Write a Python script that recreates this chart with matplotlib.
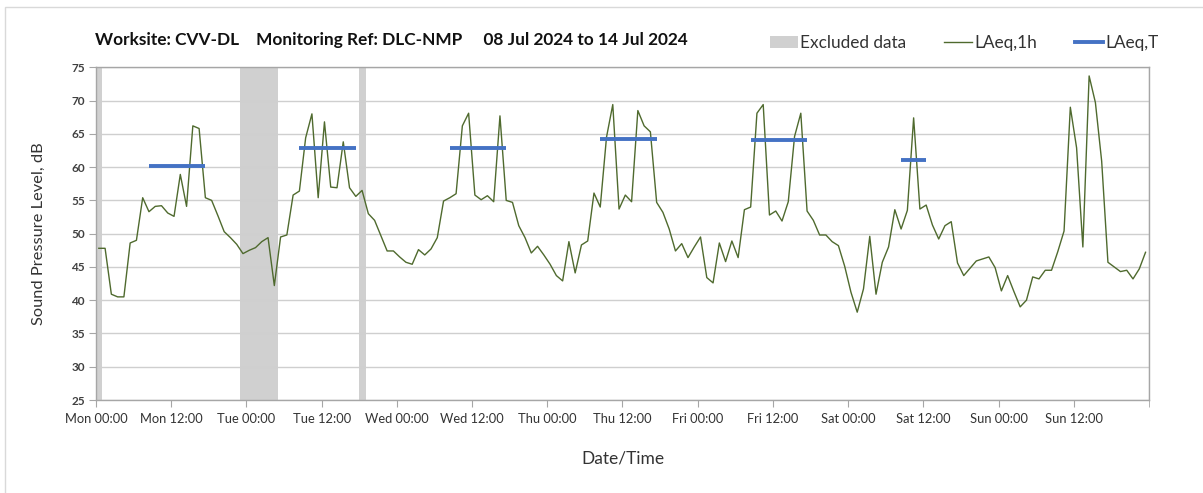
import numpy as np
import matplotlib
matplotlib.use("Agg")
import matplotlib.pyplot as plt
from matplotlib.lines import Line2D
from matplotlib.patches import Patch, Rectangle

plt.rcParams["font.family"] = ["Lato", "DejaVu Sans"]

# hourly LAeq,1h values, Mon 00:00 -> Sun 23:00
laeq_1h = [
    47.8, 47.8, 40.9, 40.5, 40.5, 48.6, 49.0, 55.4, 53.3, 54.1, 54.2, 53.1,
    52.6, 58.9, 54.1, 66.2, 65.8, 55.4, 55.0, 52.7, 50.3, 49.4, 48.4, 47.0,
    47.5, 47.9, 48.8, 49.4, 42.2, 49.5, 49.8, 55.8, 56.4, 64.4, 68.0, 55.4,
    66.8, 57.0, 56.9, 63.8, 56.9, 55.6, 56.5, 53.0, 52.0, 49.7, 47.4, 47.4,
    46.5, 45.7, 45.4, 47.6, 46.8, 47.7, 49.4, 54.9, 55.4, 56.0, 66.2, 68.1,
    55.8, 55.1, 55.7, 54.8, 67.7, 55.0, 54.7, 51.2, 49.4, 47.1, 48.1, 46.8,
    45.4, 43.7, 42.9, 48.8, 44.1, 48.3, 48.9, 56.1, 54.0, 64.5, 69.4, 53.7,
    55.8, 54.8, 68.5, 66.2, 65.3, 54.7, 53.2, 50.7, 47.4, 48.5, 46.4, 48.0,
    49.5, 43.4, 42.6, 48.6, 45.8, 48.9, 46.4, 53.6, 54.0, 68.1, 69.4, 52.8,
    53.4, 51.9, 54.8, 64.6, 68.1, 53.4, 52.0, 49.8, 49.8, 48.8, 48.2, 45.1,
    41.2, 38.2, 41.7, 49.6, 40.9, 45.7, 48.0, 53.6, 50.7, 53.5, 67.4, 53.7,
    54.3, 51.3, 49.2, 51.2, 51.8, 45.6, 43.7, 44.8, 45.9, 46.2, 46.5, 44.9,
    41.4, 43.7, 41.3, 39.0, 40.0, 43.5, 43.2, 44.5, 44.5, 47.3, 50.4, 69.0,
    62.9, 48.0, 73.7, 69.7, 60.9, 45.7, 45.0, 44.3, 44.5, 43.2, 44.7, 47.2,
]

# LAeq,T periods: first hour, last hour, level
laeq_t_start = [8, 32, 56, 80, 104, 128]
laeq_t_end = [17, 41, 65, 89, 113, 132]
laeq_t_level = [60.2, 62.8, 62.8, 64.2, 64.1, 61.0]

# excluded data periods (hours from Mon 00:00)
excl_start = [0, 23, 42]
excl_end = [1, 29, 43]

days = ["Mon", "Tue", "Wed", "Thu", "Fri", "Sat", "Sun"]
tick_labels = [f"{d} {h}" for d in days for h in ("00:00", "12:00")]

hours = np.arange(len(laeq_1h)) + 0.45

fig = plt.figure(figsize=(12.03, 4.93), dpi=100)
ax = fig.add_axes([0.0798, 0.1886, 0.8753, 0.6749])

# chart area border
fig.patches.append(Rectangle((5 / 1203, -0.01), 1.0, 1 - 7 / 493 + 0.01,
                             transform=fig.transFigure, fill=False,
                             edgecolor="#d9d9d9", lw=1))

for s, e in zip(excl_start, excl_end):
    ax.axvspan(s, e, color="#d0d0d0", lw=0, zorder=0.4)

ax.plot(hours, laeq_1h, color="#4f6a2e", lw=1, zorder=3)

for s, e, lv in zip(laeq_t_start, laeq_t_end, laeq_t_level):
    ax.plot([s + 0.45, e + 0.45], [lv, lv], color="#4472c4", lw=2.8,
            solid_capstyle="butt", zorder=4)

ax.set_xlim(0, 168)
ax.set_ylim(25, 75)
ax.set_yticks(np.arange(25, 76, 5))
ax.set_xticks(np.arange(0, 168, 12))
ax.set_xticklabels(tick_labels)
ax.set_xticks(np.arange(0, 169, 24), minor=True)

ax.set_axisbelow(True)
ax.grid(axis="y", color="#cfcfcf", lw=1)
ax.grid(axis="x", which="minor", color="#dedede", lw=1)

for sp in ax.spines.values():
    sp.set_color("#a6a6a6")
    sp.set_linewidth(1)

ax.tick_params(axis="x", which="major", length=5, color="#a6a6a6",
               labelsize=9.3, labelcolor="#333333", pad=4)
ax.tick_params(axis="x", which="minor", length=5, color="#a6a6a6")
ax.tick_params(axis="y", length=5, color="#a6a6a6", labelsize=8.5,
               labelcolor="#404040", pad=3)
for lab in ax.get_yticklabels():
    lab.set_fontweight("bold")

ax.set_ylabel("Sound Pressure Level, dB", fontsize=11.8, color="#333333",
              labelpad=18)
ax.set_xlabel("Date/Time", fontsize=12.5, color="#333333", labelpad=19)

fig.text(95 / 1203, 1 - 40 / 493,
         "Worksite: CVV-DL    Monitoring Ref: DLC-NMP     08 Jul 2024 to 14 Jul 2024",
         fontsize=12.4, fontweight="bold", va="center", ha="left", color="#111111")

handles = [
    Patch(facecolor="#d0d0d0", edgecolor="none", label="Excluded data"),
    Line2D([], [], color="#4f6a2e", lw=1, label="LAeq,1h"),
    Line2D([], [], color="#4472c4", lw=2.8, label="LAeq,T"),
]
fig.legend(handles=handles, loc="center right", ncol=3, frameon=False,
           bbox_to_anchor=(1174 / 1203, 1 - 43 / 493), fontsize=12.4,
           handlelength=1.6, handletextpad=0.15, columnspacing=2.2,
           labelcolor="#333333")

fig.savefig("out.png", dpi=100)
